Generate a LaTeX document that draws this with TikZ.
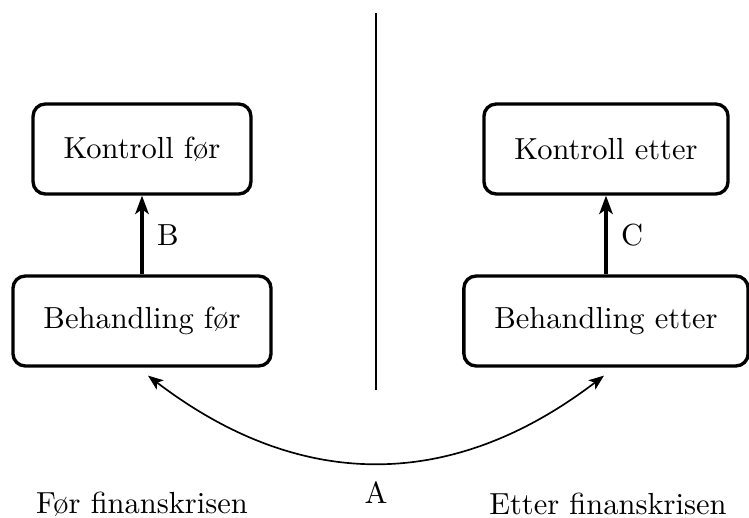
\documentclass[tikz,border=0pt]{standalone}
\usepackage{tikz}
\usetikzlibrary{positioning,arrows.meta,calc}

\begin{document}
\begin{tikzpicture}[x=.328pt,y=-.328pt,
    every node/.style={font=\normalsize},
    stagebox/.style={draw,line width=1.1pt,rounded corners=4pt,inner xsep=10pt,minimum height=29.5pt},
    effect/.style={line width=1.3pt,-{Stealth[length=6pt,width=4.4pt,inset=1.5pt]}},
    crisis/.style={line width=.55pt,{Stealth[length=5pt,width=3.8pt,inset=1.2pt]}-{Stealth[length=5pt,width=3.8pt,inset=1.2pt]}}]
    \useasboundingbox (0,0) rectangle (749,518);
    % skillelinje
    \coordinate (top) at (376,13);
    \coordinate (bottom) at (376,390);
    \draw[line width=.6pt] (top) -- (bottom);
    % boksene
    \node[stagebox] (kfor) at (142,149) {Kontroll før};
    \node[stagebox] (bfor) at (142,321) {Behandling før};
    \node[stagebox] (ketter) at (606,149) {Kontroll etter};
    \node[stagebox] (better) at (606,321) {Behandling etter};
    \draw[effect] (bfor) -- (kfor) node[midway,right=1pt]{B};
    \draw[effect] (better) -- (ketter) node[midway,right=1pt]{C};
    % sammenligning over tid
    \coordinate (aleft) at ($(bfor.south)+(6,8)$);
    \coordinate (aright) at ($(better.south)+(-2,8)$);
    \draw[crisis] (aleft) .. controls +(152,116) and +(-152,116) .. (aright)
        node[pos=.5,below=2.5pt]{A};
    \node at (142,504) {Før finanskrisen};
    \node at (608,504) {Etter finanskrisen};
  \end{tikzpicture}
\end{document}
